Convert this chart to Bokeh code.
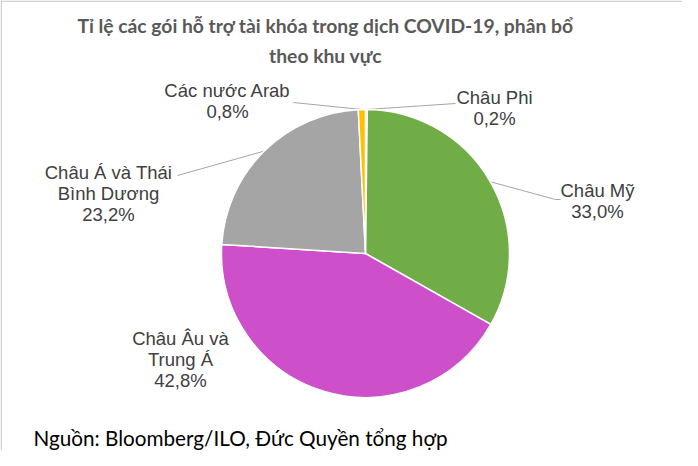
import math
from bokeh.plotting import figure
from bokeh.models import Range1d, ColumnDataSource
from bokeh.core.properties import value
from bokeh.embed import file_html
from bokeh.resources import INLINE

# ---- data ----
title_lines = ["Tỉ lệ các gói hỗ trợ tài khóa trong dịch COVID-19, phân bổ", "theo khu vực"]
source_note = "Nguồn: Bloomberg/ILO, Đức Quyền tổng hợp"
regions = ["Châu Phi", "Châu Mỹ", "Châu Âu và Trung Á", "Châu Á và Thái Bình Dương", "Các nước Arab"]
region_lines = [["Châu Phi"], ["Châu Mỹ"], ["Châu Âu và", "Trung Á"], ["Châu Á và Thái", "Bình Dương"], ["Các nước Arab"]]
shares = [0.2, 33.0, 42.8, 23.2, 0.8]
colors = ["#4472C4", "#70AD47", "#CD4FC9", "#A5A5A5", "#FFC000"]

# ---- layout helpers (picture pixel -> data) ----
W, H = 682, 450
def X(px):
    return px
def Y(py):
    return H - py

p = figure(width=W, height=H, x_range=Range1d(0, W), y_range=Range1d(0, H),
           output_backend="svg", toolbar_location=None, min_border=0,
           x_axis_location=None, y_axis_location=None)
p.grid.visible = False
p.outline_line_color = None
p.background_fill_color = "white"
p.border_fill_color = "white"

# faint frame edges (top and left) as in the reference crop
p.line([0, W], [H - 0.75, H - 0.75], line_color="#D0D0D0", line_width=1.5)
p.line([0.75, 0.75], [0, H], line_color="#D0D0D0", line_width=1.5)

cx, cy, R = X(365), Y(253), 144
total = sum(shares)
starts, ends, mids = [], [], []
cum = 0.0
for v in shares:
    s = math.pi / 2 - 2 * math.pi * cum / total
    cum += v
    e = math.pi / 2 - 2 * math.pi * cum / total
    starts.append(s); ends.append(e); mids.append((s + e) / 2)

# leader lines (drawn under the pie)
leader_ends = {0: [(455, 103)], 1: [(555, 199), (560, 199)], 3: [(177, 175)], 4: [(293, 102)]}
for i, pts in leader_ends.items():
    xs = [cx + R * math.cos(mids[i])] + [X(a) for a, b in pts]
    ys = [cy + R * math.sin(mids[i])] + [Y(b) for a, b in pts]
    p.line(xs, ys, line_color="#A6A6A6", line_width=1)

src = ColumnDataSource(dict(start=starts, end=ends, color=colors, region=regions, share=shares))
p.wedge(x=cx, y=cy, radius=R, start_angle="start", end_angle="end", direction="clock",
        fill_color="color", line_color="white", line_width=1.5, source=src)

# data labels
label_pos = {0: (494, 97), 1: (597, 190), 2: (180, 338), 3: (108, 172), 4: (227, 90)}
lx, ly, lt = [], [], []
for i, (ax, ay) in label_pos.items():
    lines = region_lines[i] + [f"{shares[i]:.1f}".replace(".", ",") + "%"]
    for k, t in enumerate(lines):
        lx.append(X(ax)); ly.append(Y(ay + 21 * k)); lt.append(t)
p.text(x=lx, y=ly, text=lt, text_align="center", text_baseline="middle",
       text_font=value("Liberation Sans"), text_font_size=value("18.5px"), text_color="#404040")

# title
p.text(x=[X(325), X(325)], y=[Y(25), Y(55)], text=title_lines, text_align="center",
       text_baseline="middle", text_font=value("Lato"), text_font_style="bold",
       text_font_size=value("19.3px"), text_color="#595959")

# source
p.text(x=[X(33)], y=[Y(437)], text=[source_note], text_align="left", text_baseline="middle",
       text_font=value("Lato"), text_font_size=value("20.7px"), text_color="#000000")

open("out.html", "w").write(file_html(p, INLINE))
